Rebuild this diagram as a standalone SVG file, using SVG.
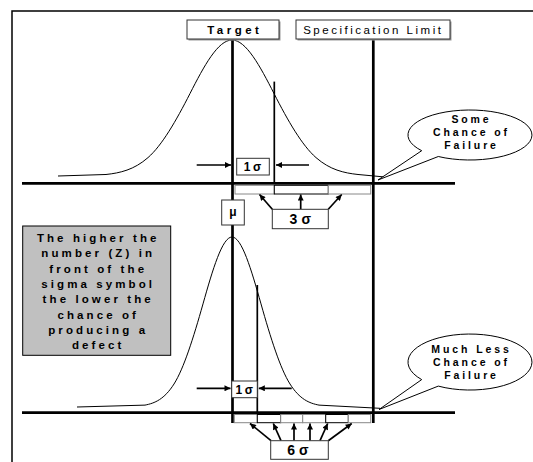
<svg xmlns="http://www.w3.org/2000/svg" width="533" height="462" viewBox="0 0 533 462">
<style>
text{font-family:"Liberation Sans",Arial,sans-serif;fill:#000;text-anchor:middle}
.b{font-weight:bold}
.lbl{font-size:11.5px}
.note{font-size:11.5px;font-weight:bold;letter-spacing:3.1px}
.call{font-size:10.5px;font-weight:bold;letter-spacing:2.9px}
.sig{font-size:12px;font-weight:bold;letter-spacing:2.5px}
.sig2{font-size:14px;font-weight:bold;letter-spacing:4px}
.box{fill:#fff;stroke:#333;stroke-width:1}
.thick{stroke:#000;stroke-width:2.7;fill:none}
.thin{stroke:#000;stroke-width:1;fill:none}
.arr{stroke:#000;stroke-width:1.7;fill:none;marker-end:url(#ah)}
.gseg{fill:#fff;stroke:#888;stroke-width:1}
.kseg{fill:#fff;stroke:#000;stroke-width:1}
</style>
<defs>
<marker id="ah" viewBox="0 0 10 10" refX="10" refY="5" markerWidth="7" markerHeight="6" markerUnits="userSpaceOnUse" orient="auto">
<path d="M0,0 L10,5 L0,10 z" fill="#000"/>
</marker>
</defs>
<rect width="533" height="462" fill="#fff"/>
<g id="frame">
<path d="M12,462 L12,11 L533,11" fill="none" stroke="#000" stroke-width="1.5"/>
</g>
<g id="curves">
<path class="thin" d="M58 176 L106 174.49 C120 172.98 134 169.87 148 157.6 C162 145.33 176 121 190 93.52 C204 66 218 40 232 40 C246 40 260 66 274 93.52 C288 121 302 145.33 316 157.6 C330 169.87 344 172.98 358 174.49 L385 177"/>
<path class="thin" d="M77 407 L145 405.11 C154.67 403.23 164.33 399.33 174 384 C183.67 368.67 193.33 338.27 203 303.9 C212.67 269.52 222.33 237 232 237 C241.67 237 251.33 269.52 261 303.9 C270.67 338.27 280.33 368.67 290 384 C299.67 399.33 309.33 403.23 319 405.11 L380 408.3"/>
</g>
<g id="axes">
<line class="thick" x1="22" y1="183.3" x2="455" y2="183.3" stroke-width="3"/>
<line class="thick" x1="22" y1="412.7" x2="455" y2="412.7"/>
<line class="thick" x1="232.5" y1="40" x2="232.5" y2="423"/>
<line class="thick" x1="373.3" y1="40" x2="373.3" y2="423"/>
<line x1="274.3" y1="81.6" x2="274.3" y2="183" stroke="#000" stroke-width="1.7"/>
<line x1="257.3" y1="285" x2="257.3" y2="412" stroke="#000" stroke-width="1.7"/>
</g>
<g id="bars-top">
<rect class="gseg" x="235" y="185.3" width="39.3" height="8.7"/>
<rect class="kseg" x="274.3" y="185.3" width="54" height="8.7"/>
<rect class="gseg" x="328.3" y="185.3" width="42.4" height="8.7"/>
</g>
<g id="bars-bottom">
<rect class="gseg" x="234.3" y="414.5" width="23" height="8.2"/>
<rect class="kseg" x="257.3" y="414.5" width="23.4" height="8.2"/>
<rect class="gseg" x="280.7" y="414.5" width="22" height="8.2"/>
<rect class="gseg" x="302.7" y="414.5" width="23" height="8.2"/>
<rect class="kseg" x="325.7" y="414.5" width="22.6" height="8.2"/>
<rect class="gseg" x="348.3" y="414.5" width="22.4" height="8.2"/>
</g>
<g id="connectors">
<line class="arr" x1="196.7" y1="165" x2="231" y2="165"/>
<line class="arr" x1="309" y1="165" x2="276" y2="165"/>
<line class="arr" x1="196.7" y1="388.3" x2="230.5" y2="388.3"/>
<line class="arr" x1="291.7" y1="388.3" x2="258.8" y2="388.3"/>
<line class="arr" x1="272.3" y1="209.3" x2="259.5" y2="194.5"/>
<line class="arr" x1="300.7" y1="209.3" x2="300.7" y2="194.5"/>
<line class="arr" x1="328.3" y1="209.3" x2="341.7" y2="194.5"/>
<line class="arr" x1="271" y1="440.7" x2="250" y2="423.5"/>
<line class="arr" x1="281" y1="440.7" x2="273.3" y2="423.5"/>
<line class="arr" x1="294" y1="440.7" x2="294" y2="423.5"/>
<line class="arr" x1="310" y1="440.7" x2="310" y2="423.5"/>
<line class="arr" x1="320" y1="440.7" x2="327.7" y2="423.5"/>
<line class="arr" x1="328.3" y1="440.7" x2="351.7" y2="423.5"/>
</g>
<g id="target">
<rect x="188.5" y="21.5" width="92" height="19" fill="#999"/>
<rect class="box" x="187" y="20" width="92" height="19" stroke="#000"/>
<text class="lbl b" x="234.8" y="33.8" style="letter-spacing:3.5px">Target</text>
</g>
<g id="spec-limit">
<rect x="297.5" y="21.5" width="154" height="19" fill="#999"/>
<rect class="box" x="296" y="20" width="154" height="19" stroke="#000"/>
<text class="lbl" x="373.3" y="33.8" style="letter-spacing:2.5px">Specification Limit</text>
</g>
<g id="one-sigma-top">
<rect class="box" x="236.7" y="158.3" width="32.6" height="16.7"/>
<text class="sig" x="253.8" y="171">1σ</text>
</g>
<g id="three-sigma">
<rect class="box" x="272.3" y="209.3" width="56" height="19.4"/>
<text class="sig2" x="302.3" y="224">3σ</text>
</g>
<g id="mu">
<rect class="box" x="221.7" y="200" width="22.6" height="25"/>
<text class="b" x="233" y="216" style="font-size:12px">μ</text>
</g>
<g id="note">
<rect x="22.7" y="226" width="148" height="129.3" fill="#c0c0c0" stroke="#000" stroke-width="1"/>
<text class="note" x="98.2" y="242">The higher the</text>
<text class="note" x="98.2" y="257.3">number (Z) in</text>
<text class="note" x="98.2" y="272.6">front of the</text>
<text class="note" x="98.2" y="287.9">sigma symbol</text>
<text class="note" x="98.2" y="303.2">the lower the</text>
<text class="note" x="98.2" y="318.5">chance of</text>
<text class="note" x="98.2" y="333.8">producing a</text>
<text class="note" x="98.2" y="349.1">defect</text>
</g>
<g id="callout-top">
<path d="M421.7,150.7 A62,25 0 1 1 438.3,156.5 L378,180 Z" fill="#fff" stroke="#000" stroke-width="1"/>
<text class="call" x="471.5" y="123">Some</text>
<text class="call" x="471.5" y="136">Chance of</text>
<text class="call" x="471.5" y="149">Failure</text>
</g>
<g id="one-sigma-bottom">
<rect class="box" x="231.7" y="381" width="25.6" height="16.7"/>
<text class="sig" x="245.5" y="394">1σ</text>
</g>
<g id="six-sigma">
<rect class="box" x="270.7" y="440.7" width="57.6" height="18.6"/>
<text class="sig2" x="300" y="455">6σ</text>
</g>
<g id="callout-bottom">
<path d="M421.7,379.6 A62,28 0 1 1 438.3,386.1 L379,409.5 Z" fill="#fff" stroke="#000" stroke-width="1"/>
<text class="call" x="471.5" y="352.7">Much Less</text>
<text class="call" x="471.5" y="366">Chance of</text>
<text class="call" x="471.5" y="379.3">Failure</text>
</g>
</svg>
